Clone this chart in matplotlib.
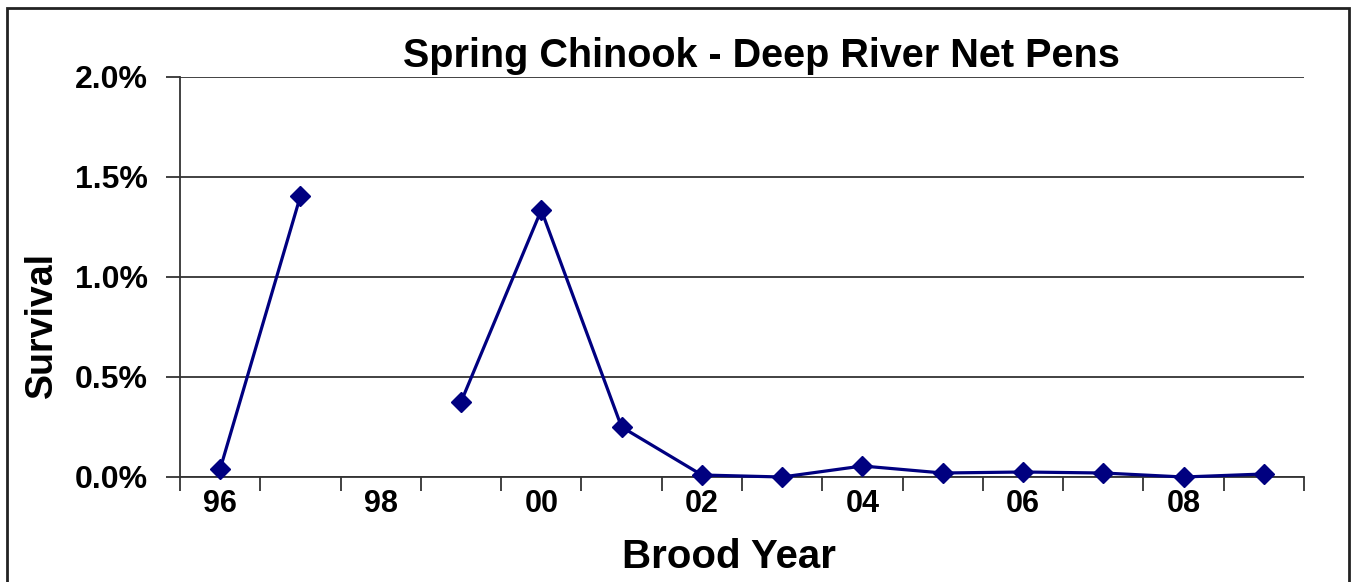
import matplotlib
matplotlib.use("Agg")
import matplotlib.pyplot as plt
from matplotlib.patches import Rectangle
import numpy as np

plt.rcParams['font.family'] = ['Liberation Sans', 'DejaVu Sans']

# Brood years and survival (%); None marks a year with no estimate
years = ['96', '97', '98', '99', '00', '01', '02', '03', '04', '05', '06', '07', '08', '09']
survival = [0.04, 1.405, None, 0.375, 1.335, 0.25, 0.01, 0.0, 0.055, 0.02, 0.025, 0.02, 0.0, 0.015]
tick_labels = ['96', '98', '00', '02', '04', '06', '08']
y_ticks = [0.0, 0.5, 1.0, 1.5, 2.0]

W, H = 1353, 582
fig = plt.figure(figsize=(W / 100, H / 100), dpi=100)
ax = fig.add_axes([180 / W, 1 - 477 / H, 1124 / W, 400 / H])

x = np.arange(len(years))
vals = np.array([np.nan if v is None else v for v in survival])
ax.plot(x, vals, color='#000080', lw=2.3, marker='D', ms=10, mew=1,
        markerfacecolor='#000080', markeredgecolor='#000080', zorder=3, clip_on=False)

ax.set_xlim(-0.5, len(years) - 0.5)
ax.set_ylim(0, 2.0)

# category boundaries carry the tick marks; labels sit on every other year
ax.set_xticks(np.arange(-0.5, len(years)))
ax.set_xticklabels([])
ax.set_xticks([years.index(t) for t in tick_labels], minor=True)
ax.set_xticklabels(tick_labels, minor=True)
ax.tick_params(axis='x', which='major', direction='out', length=10, width=1.3, color='#333333')
ax.tick_params(axis='x', which='minor', length=0, pad=9, labelsize=22)
for lab in ax.get_xticklabels(minor=True):
    lab.set_fontweight('bold')

ax.set_yticks(y_ticks)
ax.set_yticklabels([f'{v:.1f}%' for v in y_ticks], fontsize=23, fontweight='bold')
ax.tick_params(axis='y', direction='out', length=10, width=1.3, color='#333333', pad=13)

ax.yaxis.grid(True, color='#333333', lw=1.3)
ax.set_axisbelow(True)
for s in ['top', 'right']:
    ax.spines[s].set_visible(False)
for s in ['left', 'bottom']:
    ax.spines[s].set_color('#333333')
    ax.spines[s].set_linewidth(1.3)

fig.text(729 / W, 1 - 568 / H, 'Brood Year', ha='center', va='baseline',
         fontsize=29, fontweight='bold')
fig.text(42 / W, 1 - 325 / H, 'Survival', ha='center', va='center', rotation=90,
         fontsize=27, fontweight='bold')
fig.text(761 / W, 1 - 67 / H, 'Spring Chinook - Deep River Net Pens',
         ha='center', va='baseline', fontsize=28.5, fontweight='bold')

# outer frame of the chart area
fig.patches.append(Rectangle((7 / W, -0.01), (1349 - 7) / W, 1 - 8 / H + 0.01,
                             transform=fig.transFigure, fill=False, lw=2, edgecolor='#222222'))

fig.savefig('out.png', dpi=100)
